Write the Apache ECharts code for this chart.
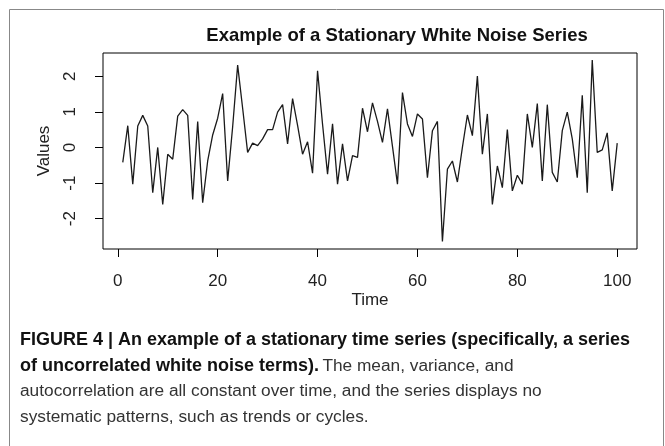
<!DOCTYPE html>
<html>
<head>
<meta charset="utf-8">
<script src="https://cdn.jsdelivr.net/npm/echarts@6/dist/echarts.min.js"></script>
<style>
  html, body { margin: 0; padding: 0; background: #fff; }
  #chart { width: 665px; height: 446px; }
</style>
</head>
<body>
<div id="chart"></div>
<script>
    // values, t = 1..100
    const noiseValues = [
        -0.42, 0.61, -1.03, 0.60, 0.90, 0.60, -1.27, 0.00, -1.60, -0.19,
        -0.33, 0.88, 1.06, 0.90, -1.46, 0.73, -1.55, -0.38, 0.35, 0.82,
        1.51, -0.94, 0.58, 2.31, 1.10, -0.14, 0.12, 0.05, 0.24, 0.50,
        0.50, 0.99, 1.20, 0.10, 1.37, 0.62, -0.19, 0.16, -0.72, 2.15,
        0.65, -0.75, 0.66, -1.03, 0.10, -0.94, -0.23, -0.28, 1.10, 0.44,
        1.25, 0.73, 0.14, 1.08, 0.03, -1.03, 1.54, 0.66, 0.31, 0.94,
        0.80, -0.85, 0.47, 0.73, -2.64, -0.61, -0.38, -0.97, 0.00, 0.91,
        0.33, 2.00, -0.19, 0.94, -1.60, -0.52, -1.13, 0.50, -1.22, -0.78,
        -1.03, 0.94, 0.00, 1.23, -0.94, 1.20, -0.70, -0.97, 0.47, 0.99,
        0.24, -0.85, 1.46, -1.27, 2.45, -0.14, -0.07, 0.41, -1.22, 0.12
    ];
    const xTicks = [0, 20, 40, 60, 80, 100];
    const yTicks = [-2, -1, 0, 1, 2];

    const seriesData = noiseValues.map(function (v, i) { return [i + 1, v]; });

    const font = '"Liberation Sans", Arial, sans-serif';
    let myChart = echarts.init(document.getElementById('chart'));

    let option = {
        animation: false,
        backgroundColor: '#fff',
        title: {
            text: 'Example of a Stationary White Noise Series',
            left: 392,
            textAlign: 'center',
            top: 21,
            textStyle: { fontFamily: font, fontSize: 18.5, fontWeight: 'bold', color: '#111' }
        },
        grid: {
            left: 103, right: 28, top: 53, bottom: 197,
            show: true, borderColor: '#000', borderWidth: 1
        },
        xAxis: {
            type: 'value',
            min: -2.96, max: 103.96,
            name: 'Time',
            nameLocation: 'middle',
            nameGap: 43,
            nameTextStyle: { fontFamily: font, fontSize: 17, color: '#222' },
            axisLine: { show: false, onZero: false },
            splitLine: { show: false },
            axisTick: { show: true, length: 8, customValues: xTicks, lineStyle: { color: '#000' } },
            axisLabel: { customValues: xTicks, margin: 24, fontFamily: font, fontSize: 17, color: '#222' }
        },
        yAxis: {
            type: 'value',
            min: -2.85, max: 2.65,
            name: 'Values',
            nameLocation: 'middle',
            nameGap: 50,
            nameTextStyle: { fontFamily: font, fontSize: 17, color: '#222' },
            axisLine: { show: false, onZero: false },
            splitLine: { show: false },
            axisTick: { show: true, length: 8, customValues: yTicks, lineStyle: { color: '#000' } },
            axisLabel: { customValues: yTicks, rotate: 90, margin: 24, fontFamily: font, fontSize: 17, color: '#222' }
        },
        series: [
            {
                type: 'line',
                data: seriesData,
                showSymbol: false,
                lineStyle: { color: '#1a1a1a', width: 1.3 }
            }
        ],
        graphic: [
            {
                type: 'rect',
                shape: { x: 9.5, y: 9.5, width: 654, height: 460 },
                style: { fill: 'none', stroke: '#888', lineWidth: 1 }
            },
            {
                type: 'text', left: 20, top: 331,
                style: { text: 'FIGURE 4 | An example of a stationary time series (specifically, a series',
                    font: 'bold 18px ' + font, fill: '#111' }
            },
            {
                type: 'text', left: 20, top: 357,
                style: {
                    text: '{b|of uncorrelated white noise terms).} {r|The mean, variance, and}',
                    rich: {
                        b: { font: 'bold 18px ' + font, fill: '#111' },
                        r: { font: '17.3px ' + font, fill: '#333' }
                    }
                }
            },
            {
                type: 'text', left: 20, top: 383,
                style: { text: 'autocorrelation are all constant over time, and the series displays no',
                    font: '17.3px ' + font, fill: '#333' }
            },
            {
                type: 'text', left: 20, top: 409,
                style: { text: 'systematic patterns, such as trends or cycles.',
                    font: '17.3px ' + font, fill: '#333' }
            }
        ]
    };

    myChart.setOption(option);
</script>
</body>
</html>
